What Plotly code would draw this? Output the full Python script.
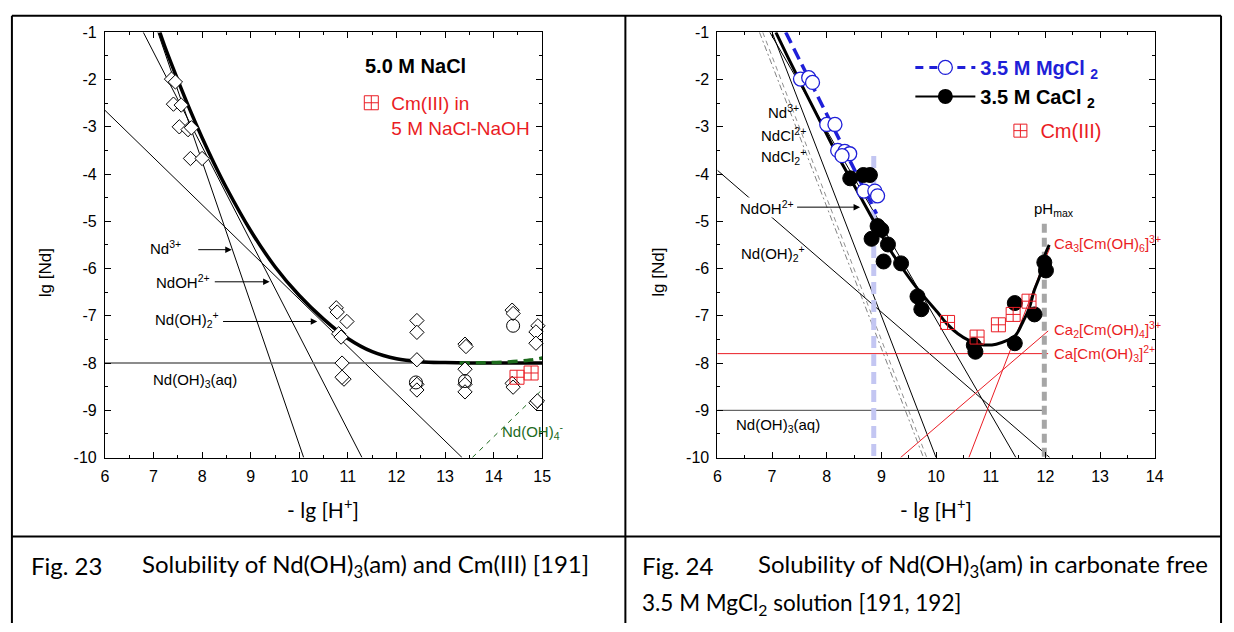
import plotly.graph_objects as go

# ---------------- data: left panel (Fig. 23, 5.0 M NaCl) ----------------
L_dia_x = [7.37, 7.45, 7.41, 7.57, 7.53, 7.71, 7.78, 7.76, 8.00,
           10.76, 10.78, 10.98, 10.81, 10.86, 10.88, 10.92, 10.88,
           12.42, 12.42, 12.42, 12.42, 12.42,
           13.41, 13.43, 13.41, 13.41, 13.41,
           14.38, 14.40, 14.38, 14.40,
           14.91, 14.87, 14.87, 14.87, 14.90]
L_dia_y = [-1.99, -2.05, -2.52, -2.54, -3.00, -3.06, -3.02, -3.67, -3.67,
           -6.83, -6.92, -7.12, -7.38, -7.45, -8.00, -8.34, -8.30,
           -7.10, -7.35, -7.93, -8.45, -8.57,
           -7.60, -7.65, -8.13, -8.45, -8.61,
           -6.88, -6.95, -8.43, -8.51,
           -7.21, -7.34, -7.58, -8.84, -8.80]
L_circ_x = [12.40, 13.41, 14.40]
L_circ_y = [-8.41, -8.38, -7.21]
L_cm_x = [14.48, 14.77, 15.05]
L_cm_y = [-8.30, -8.21, -8.34]

# species lines (end points)
L_nd3_x, L_nd3_y = [7.09, 10.09], [-1.0, -10.0]
L_ndoh_x, L_ndoh_y = [6.79, 11.29], [-1.0, -10.0]
L_ndoh2_x, L_ndoh2_y = [6.0, 13.35], [-2.65, -10.0]
L_ndoh3_x, L_ndoh3_y = [6.0, 15.0], [-8.0, -8.0]
L_ndoh4_x, L_ndoh4_y = [13.56, 15.06], [-10.0, -8.5]

# total solubility curve
L_tot_x = [7.13, 7.25, 7.5, 7.75, 8.0, 8.25, 8.5, 9.0, 9.5, 10.0, 10.5, 11.0, 11.5, 12.0, 12.5, 13.0, 13.5, 14.0, 14.5, 15.0]
L_tot_y = [-1.0, -1.35, -2.01, -2.64, -3.23, -3.78, -4.29, -5.20, -5.96, -6.57, -7.07, -7.48, -7.76, -7.91, -7.97, -7.99, -8.0, -8.0, -8.0, -8.0]
L_tot4_x = [13.3, 13.75, 14.0, 14.25, 14.5, 14.75, 15.0]
L_tot4_y = [-8.0, -7.993, -7.987, -7.979, -7.963, -7.937, -7.894]

L_xtick = [6, 7, 8, 9, 10, 11, 12, 13, 14, 15]
L_xtext = ["6", "7", "8", "9", "10", "11", "12", "13", "14", "15"]

# ---------------- data: right panel (Fig. 24) ----------------
R_mg_x = [7.52, 7.67, 7.74, 8.00, 8.15, 8.20, 8.33, 8.42, 8.28, 8.68, 8.88, 8.93]
R_mg_y = [-1.99, -1.96, -2.06, -2.95, -2.95, -3.50, -3.52, -3.57, -3.61, -4.36, -4.36, -4.46]
R_ca_x = [8.43, 8.67, 8.79, 8.93, 9.00, 8.82, 9.12, 9.04, 9.36, 9.66, 9.73,
          10.69, 10.72, 11.44, 11.44, 11.80, 11.98, 12.01]
R_ca_y = [-4.09, -4.02, -4.02, -5.10, -5.18, -5.37, -5.49, -5.85, -5.89, -6.59, -6.86,
          -7.62, -7.76, -6.73, -7.58, -6.97, -5.87, -6.04]
R_cm_x = [10.21, 10.75, 11.14, 11.41, 11.70]
R_cm_y = [-7.14, -7.45, -7.19, -6.97, -6.69]

R_fit_x = [7.07, 7.3, 7.61, 7.9, 8.15, 8.4, 8.64, 8.85, 9.0, 9.2, 9.4, 9.6, 9.8, 10.03,
           10.2, 10.4, 10.6, 10.8, 10.93, 11.1, 11.3, 11.45, 11.6, 11.7, 11.8, 11.9, 11.98, 12.07]
R_fit_y = [-1.0, -1.55, -2.27, -2.93, -3.50, -4.03, -4.53, -4.97, -5.29, -5.68, -6.02, -6.34, -6.62, -6.93,
           -7.17, -7.38, -7.52, -7.60, -7.62, -7.60, -7.52, -7.42, -7.10, -6.85, -6.45, -6.15, -5.75, -5.50]
R_mgfit_x, R_mgfit_y = [7.25, 8.91], [-1.0, -4.84]

R_nd3_x, R_nd3_y = [7.0, 10.0], [-1.0, -10.0]
R_ndcl_x, R_ndcl_y = [6.77, 9.77], [-1.0, -10.0]
R_ndcl2_x, R_ndcl2_y = [6.83, 9.83], [-1.0, -10.0]
R_ndoh_x, R_ndoh_y = [6.96, 11.46], [-1.0, -10.0]
R_ndoh2_x, R_ndoh2_y = [6.0, 12.08], [-3.92, -10.0]
R_ndoh3_x, R_ndoh3_y = [6.0, 12.0], [-9.0, -9.0]
R_ca1_x, R_ca1_y = [6.0, 12.05], [-7.8, -7.8]
R_ca2_x, R_ca2_y = [9.35, 12.05], [-10.0, -7.32]
R_ca3_x, R_ca3_y = [10.6, 12.08], [-10.0, -5.56]
R_mgmax_x, R_mgmax_y = [8.86, 8.86], [-3.62, -10.0]
R_phmax_x, R_phmax_y = [11.98, 11.98], [-5.05, -10.0]

R_xtick = [6, 7, 8, 9, 10, 11, 12, 13, 14]
R_xtext = ["6", "7", "8", "9", "10", "11", "12", "13", "14"]
Y_tick = [-1, -2, -3, -4, -5, -6, -7, -8, -9, -10]
Y_text = ["-1", "-2", "-3", "-4", "-5", "-6", "-7", "-8", "-9", "-10"]

# ---------------- styles ----------------
W, H = 1234, 632
RED = "#ea1c24"
BLUE = "#1f1fd8"
GREEN = "#1d6b1d"
ARIAL = "Liberation Sans, Arial, sans-serif"
CAL = "Lato, Carlito, Calibri, sans-serif"

def px(x):
    return x / W

def py(y):
    return 1 - y / H

fig = go.Figure()

def line(x, y, xa, color="black", width=1, dash="solid"):
    fig.add_trace(go.Scatter(x=x, y=y, mode="lines", xaxis=xa[0], yaxis=xa[1],
                             line=dict(color=color, width=width, dash=dash),
                             showlegend=False, hoverinfo="skip"))

LA = ("x", "y")
RA = ("x2", "y2")

# left lines
line(L_nd3_x, L_nd3_y, LA)
line(L_ndoh_x, L_ndoh_y, LA)
line(L_ndoh2_x, L_ndoh2_y, LA)
line(L_ndoh3_x, L_ndoh3_y, LA, color="#666666", width=1.5)
line(L_ndoh4_x, L_ndoh4_y, LA, color=GREEN, width=1, dash="5px,5px")
fig.add_trace(go.Scatter(x=L_tot_x, y=L_tot_y, mode="lines", line=dict(color="black", width=3.5, shape="spline"),
                         showlegend=False, hoverinfo="skip"))
fig.add_trace(go.Scatter(x=L_tot4_x, y=L_tot4_y, mode="lines", line=dict(color=GREEN, width=3.5, shape="spline", dash="10px,6px"),
                         showlegend=False, hoverinfo="skip"))
fig.add_trace(go.Scatter(x=L_dia_x, y=L_dia_y, mode="markers",
                         marker=dict(symbol="diamond", size=11, color="white", line=dict(color="black", width=1)),
                         showlegend=False, hoverinfo="skip", cliponaxis=False))
fig.add_trace(go.Scatter(x=L_circ_x, y=L_circ_y, mode="markers",
                         marker=dict(symbol="circle-open", size=13, color="black", line=dict(color="black", width=1)),
                         showlegend=False, hoverinfo="skip", cliponaxis=False))
fig.add_trace(go.Scatter(x=L_cm_x, y=L_cm_y, mode="markers", name="Cm(III) in<br>5 M NaCl-NaOH",
                         marker=dict(symbol="square-cross-open", size=14, color=RED, line=dict(color=RED, width=1)),
                         legend="legend", hoverinfo="skip", cliponaxis=False))

# right lines
line(R_ndcl_x, R_ndcl_y, RA, color="#808080", width=1, dash="6px,3px,2px,3px")
line(R_ndcl2_x, R_ndcl2_y, RA, color="#909090", width=1, dash="5px,4px")
line(R_nd3_x, R_nd3_y, RA)
line(R_ndoh_x, R_ndoh_y, RA)
line(R_ndoh2_x, R_ndoh2_y, RA)
line(R_ndoh3_x, R_ndoh3_y, RA, color="#444444", width=1)
line(R_ca1_x, R_ca1_y, RA, color=RED, width=1)
line(R_ca2_x, R_ca2_y, RA, color=RED, width=1)
line(R_ca3_x, R_ca3_y, RA, color=RED, width=1)
line(R_mgmax_x, R_mgmax_y, RA, color="#c3c6f2", width=5, dash="12px,6px")
line(R_phmax_x, R_phmax_y, RA, color="#a6a6a6", width=5, dash="9px,5px")
fig.add_trace(go.Scatter(x=R_fit_x, y=R_fit_y, mode="lines", xaxis="x2", yaxis="y2",
                         line=dict(color="black", width=3, shape="spline"), showlegend=False, hoverinfo="skip"))
line(R_mgfit_x, R_mgfit_y, RA, color=BLUE, width=3.5, dash="12px,6px")

fig.add_trace(go.Scatter(x=R_mg_x, y=R_mg_y, mode="markers", xaxis="x2", yaxis="y2",
                         marker=dict(symbol="circle", size=14, color="white", line=dict(color=BLUE, width=1.3)),
                         showlegend=False, hoverinfo="skip"))
fig.add_trace(go.Scatter(x=R_ca_x, y=R_ca_y, mode="markers", xaxis="x2", yaxis="y2",
                         marker=dict(symbol="circle", size=15, color="black", line=dict(color="black", width=1)),
                         showlegend=False, hoverinfo="skip"))
fig.add_trace(go.Scatter(x=R_cm_x, y=R_cm_y, mode="markers", xaxis="x2", yaxis="y2",
                         marker=dict(symbol="square-cross-open", size=14, color=RED, line=dict(color=RED, width=1)),
                         showlegend=False, hoverinfo="skip"))
# legend entries for the right panel
fig.add_trace(go.Scatter(x=[None], y=[None], mode="lines+markers", xaxis="x2", yaxis="y2",
                         name="<b><span style='color:%s'>3.5 M MgCl <sub>2</sub></span></b>" % BLUE,
                         line=dict(color=BLUE, width=3, dash="8px,6px"),
                         marker=dict(symbol="circle", size=14, color="white", line=dict(color=BLUE, width=1.3)),
                         legend="legend2"))
fig.add_trace(go.Scatter(x=[None], y=[None], mode="lines+markers", xaxis="x2", yaxis="y2",
                         name="<b>3.5 M CaCl <sub>2</sub></b>",
                         line=dict(color="black", width=2),
                         marker=dict(symbol="circle", size=15, color="black"),
                         legend="legend2"))
fig.add_trace(go.Scatter(x=[None], y=[None], mode="markers", xaxis="x2", yaxis="y2",
                         name="<span style='color:%s'>Cm(III)</span>" % RED,
                         marker=dict(symbol="square-cross-open", size=13, color=RED, line=dict(color=RED, width=1)),
                         legend="legend3"))

axis_common = dict(showline=True, linecolor="black", linewidth=1, mirror="ticks", ticks="inside",
                   ticklen=6, tickwidth=1, tickcolor="black", showgrid=False, zeroline=False,
                   tickfont=dict(family=ARIAL, size=16, color="black"), ticklabelstandoff=4)

def xaxis(domain, rng, ticks, texts, anchor):
    d = dict(axis_common)
    d.update(domain=domain, range=rng, tickmode="array", tickvals=ticks, ticktext=texts, anchor=anchor,
             minor=dict(ticks="inside", ticklen=3, tick0=6, dtick=0.5, tickcolor="black", showgrid=False))
    return d

def yaxis(domain, anchor):
    d = dict(axis_common)
    d.update(domain=domain, range=[-10, -1], tickmode="array", tickvals=Y_tick, ticktext=Y_text, anchor=anchor,
             minor=dict(ticks="inside", ticklen=3, tick0=-10, dtick=0.5, tickcolor="black", showgrid=False))
    return d

ydom = [py(462), py(25)]
fig.update_layout(
    width=W, height=H, margin=dict(l=0, r=0, t=0, b=0),
    paper_bgcolor="white", plot_bgcolor="white",
    xaxis=xaxis([px(102), px(544)], [6, 15], L_xtick, L_xtext, "y"),
    yaxis=yaxis(ydom, "x"),
    xaxis2=xaxis([px(721), px(1163)], [6, 14], R_xtick, R_xtext, "y2"),
    yaxis2=yaxis(ydom, "x2"),
    legend=dict(x=px(351), y=py(78), xanchor="left", yanchor="top", bgcolor="rgba(0,0,0,0)",
                font=dict(family=ARIAL, size=19, color=RED), valign="top", itemwidth=30),
    legend2=dict(x=px(916), y=py(41), xanchor="left", yanchor="top", bgcolor="rgba(0,0,0,0)",
                 font=dict(family=ARIAL, size=20, color="black"), itemwidth=60, tracegroupgap=0),
    legend3=dict(x=px(1007), y=py(106), xanchor="left", yanchor="top", bgcolor="rgba(0,0,0,0)",
                 font=dict(family=ARIAL, size=20, color=RED), itemwidth=30),
)

ann = []
def lab(text, x, y, xr, yr, size=15, color="black", xanchor="left", font=ARIAL, bg=None):
    a = dict(text=text, x=x, y=y, xref=xr, yref=yr, showarrow=False, xanchor=xanchor, yanchor="middle",
             font=dict(family=font, size=size, color=color))
    if bg:
        a.update(bgcolor=bg, borderpad=0)
    ann.append(a)

def arrow(x0, x1, y, xr, yr):
    ann.append(dict(text="", x=x1, y=y, ax=x0, ay=y, xref=xr, yref=yr, axref=xr, ayref=yr,
                    showarrow=True, arrowhead=2, arrowsize=1.3, arrowwidth=1, arrowcolor="black", standoff=0))

# left labels
lab("<b>5.0 M NaCl</b>", 11.32, -1.72, "x", "y", size=20)
lab("Nd<sup>3+</sup>", 6.88, -5.55, "x", "y")
arrow(7.89, 8.61, -5.6, "x", "y")
lab("NdOH<sup>2+</sup>", 7.0, -6.27, "x", "y")
arrow(8.23, 9.39, -6.28, "x", "y")
lab("Nd(OH)<sub>2</sub><sup>+</sup>", 6.98, -7.08, "x", "y")
arrow(8.4, 10.37, -7.12, "x", "y")
lab("Nd(OH)<sub>3</sub>(aq)", 6.94, -8.37, "x", "y")
lab("Nd(OH)<sub>4</sub><sup>-</sup>", 14.12, -9.44, "x", "y", color=GREEN)

# right labels
lab("Nd<sup>3+</sup>", 6.89, -2.68, "x2", "y2")
lab("NdCl<sup>2+</sup>", 6.77, -3.16, "x2", "y2")
lab("NdCl<sub>2</sub><sup>+</sup>", 6.77, -3.63, "x2", "y2")
lab("NdOH<sup>2+</sup>", 6.4, -4.70, "x2", "y2", bg="white")
arrow(7.43, 8.61, -4.70, "x2", "y2")
lab("Nd(OH)<sub>2</sub><sup>+</sup>", 6.4, -5.69, "x2", "y2")
lab("Nd(OH)<sub>3</sub>(aq)", 6.31, -9.33, "x2", "y2")
lab("pH<sub>max</sub>", 12.16, -4.74, "x2", "y2", xanchor="center")
lab("Ca<sub>3</sub>[Cm(OH)<sub>6</sub>]<sup>3+</sup>", 12.12, -5.47, "x2", "y2", color=RED)
lab("Ca<sub>2</sub>[Cm(OH)<sub>4</sub>]<sup>3+</sup>", 12.12, -7.28, "x2", "y2", color=RED)
lab("Ca[Cm(OH)<sub>3</sub>]<sup>2+</sup>", 12.12, -7.79, "x2", "y2", color=RED)

# axis titles
for cx in (42, 662):
    ann.append(dict(text="lg [Nd]", x=px(cx), y=py(272), xref="paper", yref="paper", showarrow=False,
                    xanchor="center", yanchor="middle",
                    textangle=-90, font=dict(family=ARIAL, size=17, color="black")))
for cx in (322, 942):
    ann.append(dict(text="- lg [H<sup>+</sup>]", x=px(cx), y=py(514), xref="paper", yref="paper", showarrow=False,
                    xanchor="center", yanchor="middle",
                    font=dict(family=CAL, size=21, color="black")))

# captions
cap = dict(xref="paper", yref="paper", showarrow=False, xanchor="left", yanchor="middle",
           font=dict(family=CAL, size=24, color="black"))
ann.append(dict(cap, text="Fig. 23", x=px(25), y=py(573)))
ann.append(dict(cap, text="Solubility of Nd(OH)<sub>3</sub>(am) and Cm(III) [191]", x=px(137), y=py(573)))
ann.append(dict(cap, text="Fig. 24", x=px(643), y=py(573)))
ann.append(dict(cap, text="Solubility of Nd(OH)<sub>3</sub>(am) in carbonate free", x=px(760), y=py(573)))
ann.append(dict(cap, text="3.5 M MgCl<sub>2</sub> solution [191, 192]", x=px(643), y=py(612),
                font=dict(family=CAL, size=22.5, color="black")))
fig.update_layout(annotations=ann)

# table borders
shapes = []
def seg(x0, y0, x1, y1):
    shapes.append(dict(type="line", xref="paper", yref="paper", x0=px(x0), y0=py(y0), x1=px(x1), y1=py(y1),
                       line=dict(color="black", width=2)))
seg(8, 8, 1230, 8)
seg(8, 543, 1230, 543)
seg(8, 8, 8, 632)
seg(628, 8, 628, 632)
seg(1230, 8, 1230, 632)
fig.update_layout(shapes=shapes)

fig.write_html("out.html")
